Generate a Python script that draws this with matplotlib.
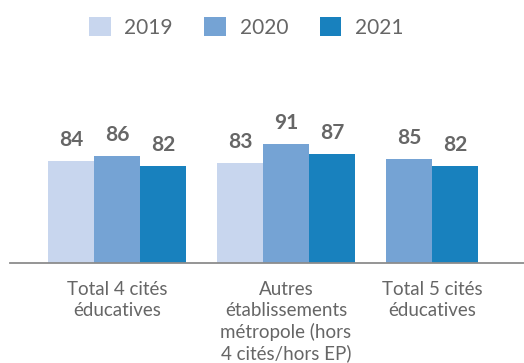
import matplotlib
matplotlib.use("Agg")
import matplotlib.pyplot as plt
from matplotlib.patches import Patch
import numpy as np

categories = ["Total 4 cités\néducatives",
              "Autres\nétablissements\nmétropole (hors\n4 cités/hors EP)",
              "Total 5 cités\néducatives"]
series = ["2019", "2020", "2021"]
v2019 = [84, 83, None]
v2020 = [86, 91, 85]
v2021 = [82, 87, 82]
values = [v2019, v2020, v2021]
colors = ["#c8d6ee", "#75a3d4", "#1881be"]
text_color = "#666666"

plt.rcParams['font.family'] = ['Lato', 'DejaVu Sans']

fig = plt.figure(figsize=(5.24, 3.63), dpi=100)
ax = fig.add_axes([10/524, (363-263.3)/363, 1 - 10/524, 0.3856])

gap = 0.674
cursor = 0.0
centers = []
for ci in range(len(categories)):
    xs = []
    for si in range(len(series)):
        v = values[si][ci]
        if v is None:
            continue
        x = cursor
        ax.bar(x, v, width=1.0, color=colors[si], align='edge', zorder=2)
        ax.annotate(f"{v}", (x + 0.5, v), xytext=(0, 10.8), textcoords='offset points',
                    ha='center', va='baseline', fontsize=15, fontweight='bold',
                    color=text_color)
        xs.append(x)
        cursor += 1.0
    centers.append((xs[0] + xs[-1] + 1.0) / 2)
    cursor += gap

x0 = -(48 - 10) / 46
ax.set_xlim(x0, x0 + 514 / 46)
ax.set_ylim(40.9, 40.9 + 0.3856 * 363 / 2.372)

for c, lab in zip(centers, categories):
    ax.text(c, -0.125, lab, transform=ax.get_xaxis_transform(), ha='center', va='top',
            fontsize=13.5, color=text_color, linespacing=1.27)

for s in ['top', 'right', 'left']:
    ax.spines[s].set_visible(False)
ax.spines['bottom'].set_color('#8c8c8c')
ax.spines['bottom'].set_linewidth(1.3)
ax.set_xticks([])
ax.set_yticks([])

handles = [Patch(facecolor=c, edgecolor='none') for c in colors]
fig.legend(handles, series, loc='center', bbox_to_anchor=(0.470, 0.9245), ncol=3,
           frameon=False, fontsize=15, handlelength=1.05, handleheight=1.05,
           handletextpad=0.66, columnspacing=1.5, borderpad=0, labelcolor=text_color)

fig.savefig("out.png", dpi=100)
